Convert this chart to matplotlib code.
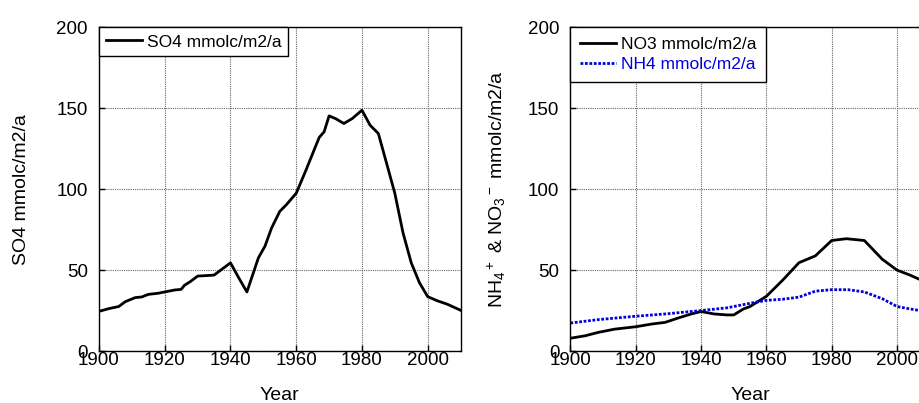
import matplotlib
matplotlib.use('Agg')
import matplotlib.pyplot as plt

plt.rcParams['font.family'] = ['Liberation Sans', 'DejaVu Sans']
plt.rcParams['mathtext.fontset'] = 'custom'
plt.rcParams['mathtext.rm'] = 'Liberation Sans'
plt.rcParams['mathtext.it'] = 'Liberation Sans'

# SO4 deposition
so4_years = [1900, 1903, 1906, 1908, 1911, 1913, 1915, 1918, 1920, 1923, 1925, 1926,
             1928, 1930, 1935, 1940, 1942.5, 1945, 1948.5, 1950.5, 1952.5, 1955, 1957,
             1960, 1963, 1965, 1967, 1968.5, 1970, 1972, 1974.5, 1977, 1980, 1982.5,
             1985, 1987.5, 1990, 1992.5, 1995, 1997.5, 2000, 2003, 2006, 2010]
so4_vals = [24.5, 26.2, 27.5, 30.5, 33, 33.4, 35, 35.7, 36.5, 37.7, 38.1, 40.6,
            43.2, 46.3, 46.9, 54.5, 45.3, 36.5, 57.6, 64.8, 76, 86.3, 90.4,
            97.5, 111.9, 122, 132, 135.5, 145.3, 143.6, 140.6, 143.6, 148.8, 139.5,
            134.4, 116, 97.5, 73, 54.5, 42.2, 33.6, 31, 28.9, 25.2]

# NO3 deposition
no3_years = [1900, 1904.5, 1908.5, 1913.5, 1920, 1925, 1929, 1933, 1937, 1940, 1944,
             1948, 1950, 1953, 1955, 1960, 1965, 1970, 1975, 1980, 1984.5, 1990,
             1995.5, 2000, 2004, 2007, 2010]
no3_vals = [7.9, 9.4, 11.5, 13.5, 15, 16.7, 17.7, 20.4, 22.9, 24.4, 22.9,
            22.3, 22.3, 26, 27.5, 33.8, 43.8, 54.6, 58.8, 68.3, 69.4, 68.3,
            56.7, 50, 46.9, 44.2, 42]

# NH4 deposition
nh4_years = [1900, 1908.5, 1920, 1929, 1940, 1948, 1952, 1955, 1960, 1965, 1970,
             1975, 1980, 1985, 1990, 1995.5, 2000, 2004, 2007, 2010]
nh4_vals = [17.3, 19.4, 21.5, 22.9, 25, 26.7, 28.3, 29.5, 31.3, 32, 33.3,
            37, 37.9, 37.9, 36.5, 32.3, 27.5, 26, 25, 24]

x_ticks = [1900, 1920, 1940, 1960, 1980, 2000]
y_ticks = [0, 50, 100, 150, 200]


def style_axes(ax):
    ax.set_xlim(1900, 2010)
    ax.set_ylim(0, 200)
    ax.set_xticks(x_ticks)
    ax.set_yticks(y_ticks)
    ax.grid(True, color='0.4', linestyle=(0, (1, 1)), linewidth=0.8)
    ax.set_axisbelow(True)
    ax.tick_params(direction='in', length=4, width=1, labelsize=13.5)
    ax.tick_params(axis='x', pad=1)
    ax.tick_params(axis='y', pad=8)
    for sp in ax.spines.values():
        sp.set_linewidth(1)
        sp.set_color('black')
    ax.set_xlabel('Year', fontsize=14)
    ax.xaxis.set_label_coords(0.5, -0.11)


fig = plt.figure(figsize=(9.2, 4.03), dpi=100)
ax1 = fig.add_axes([0.1076, 0.129, 0.393, 0.803])
ax2 = fig.add_axes([0.620, 0.129, 0.3905, 0.803])

# 左图 SO4
ax1.plot(so4_years, so4_vals, color='black', linewidth=2, label='SO4 mmolc/m2/a')
style_axes(ax1)
ax1.set_ylabel('SO4 mmolc/m2/a', fontsize=14)
ax1.yaxis.set_label_coords(-0.19, 0.5)
leg1 = ax1.legend(loc='upper left', borderaxespad=0, fontsize=12.5, fancybox=False,
                  edgecolor='black', framealpha=1, handlelength=2.1, handletextpad=0.25)
leg1.get_frame().set_linewidth(1)

# 右图 NO3 / NH4
ax2.plot(no3_years, no3_vals, color='black', linewidth=2, label='NO3 mmolc/m2/a')
ax2.plot(nh4_years, nh4_vals, color='#0000dd', linewidth=2, linestyle=(0, (1, 0.6)),
         label='NH4 mmolc/m2/a')
style_axes(ax2)
ax2.set_ylabel(r'NH$_4$$^+$ & NO$_3$$^-$ mmolc/m2/a', fontsize=14)
ax2.yaxis.set_label_coords(-0.175, 0.5)
leg2 = ax2.legend(loc='upper left', borderaxespad=0, fontsize=12.5, fancybox=False,
                  edgecolor='black', framealpha=1, handlelength=2.1, handletextpad=0.25,
                  labelspacing=0.3, borderpad=0.55)
leg2.get_frame().set_linewidth(1)
leg2.get_texts()[1].set_color('#0000dd')

fig.savefig('out.png', dpi=100)
